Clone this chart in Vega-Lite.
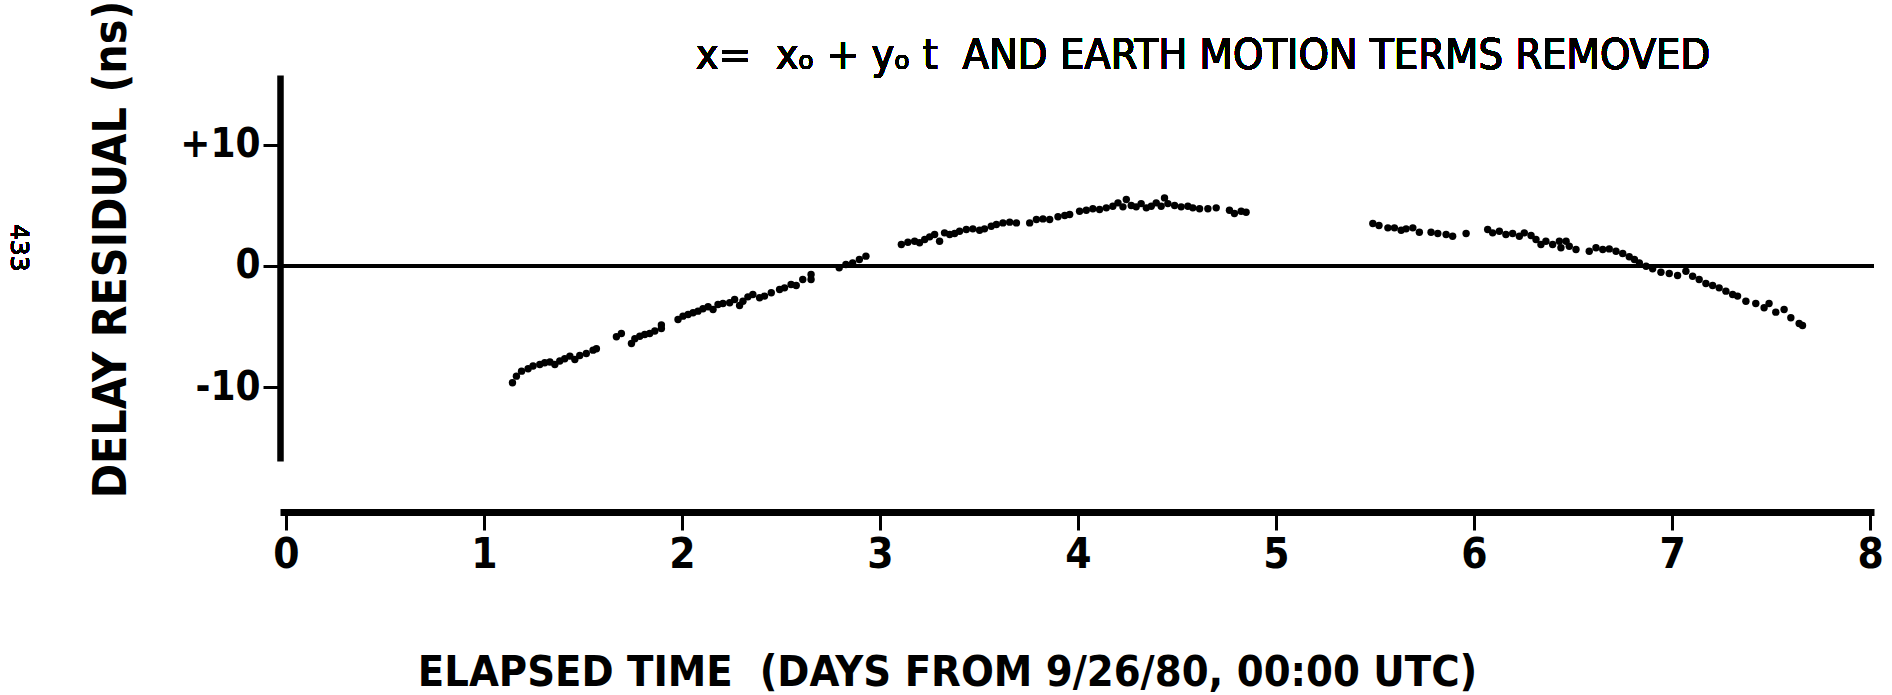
{
  "$schema": "https://vega.github.io/schema/vega-lite/v6.json",
  "autosize": {"type": "none"},
  "width": 1594,
  "height": 386,
  "padding": {"left": 280, "top": 75, "right": 18, "bottom": 234},
  "background": "white",
  "config": {"view": {"stroke": null}, "font": "DejaVu Sans Condensed, sans-serif"},
  "data": {"values": [
    {"t":1.144,"r":-9.62},{"t":1.164,"r":-9.07},{"t":1.190,"r":-8.66},{"t":1.223,"r":-8.46},{"t":1.248,"r":-8.24},{"t":1.282,"r":-8.11},{"t":1.307,"r":-7.97},{"t":1.333,"r":-7.91},{"t":1.358,"r":-8.11},{"t":1.383,"r":-7.83},{"t":1.408,"r":-7.64},{"t":1.434,"r":-7.42},{"t":1.459,"r":-7.70},{"t":1.484,"r":-7.37},{"t":1.517,"r":-7.20},{"t":1.551,"r":-6.93},{"t":1.568,"r":-6.82},
    {"t":1.669,"r":-5.83},{"t":1.694,"r":-5.56},{"t":1.745,"r":-6.38},{"t":1.762,"r":-5.99},{"t":1.787,"r":-5.78},{"t":1.812,"r":-5.64},{"t":1.837,"r":-5.56},{"t":1.863,"r":-5.36},{"t":1.896,"r":-4.85},{"t":1.896,"r":-5.15},
    {"t":1.980,"r":-4.40},{"t":2.005,"r":-4.13},{"t":2.031,"r":-3.99},{"t":2.056,"r":-3.85},{"t":2.081,"r":-3.72},{"t":2.106,"r":-3.52},{"t":2.132,"r":-3.36},{"t":2.157,"r":-3.58},{"t":2.182,"r":-3.17},{"t":2.207,"r":-3.09},{"t":2.241,"r":-3.03},{"t":2.266,"r":-2.76},{"t":2.291,"r":-3.25},{"t":2.308,"r":-2.90},{"t":2.333,"r":-2.54},{"t":2.358,"r":-2.35},{"t":2.392,"r":-2.62},{"t":2.417,"r":-2.48},{"t":2.451,"r":-2.21},{"t":2.493,"r":-1.93},{"t":2.518,"r":-1.80},{"t":2.551,"r":-1.52},{"t":2.577,"r":-1.60},{"t":2.610,"r":-1.11},{"t":2.652,"r":-0.70},{"t":2.652,"r":-1.11},
    {"t":2.794,"r":-0.15},{"t":2.828,"r":0.12},{"t":2.862,"r":0.26},{"t":2.896,"r":0.53},{"t":2.929,"r":0.81},
    {"t":3.108,"r":1.77},{"t":3.141,"r":1.96},{"t":3.175,"r":2.04},{"t":3.200,"r":1.91},{"t":3.226,"r":2.18},{"t":3.251,"r":2.40},{"t":3.276,"r":2.59},{"t":3.301,"r":2.04},{"t":3.326,"r":2.73},{"t":3.352,"r":2.59},{"t":3.377,"r":2.67},{"t":3.402,"r":2.86},{"t":3.436,"r":3.00},{"t":3.469,"r":3.06},{"t":3.503,"r":2.95},{"t":3.528,"r":3.06},{"t":3.562,"r":3.28},{"t":3.588,"r":3.42},{"t":3.621,"r":3.55},{"t":3.655,"r":3.61},{"t":3.689,"r":3.55},
    {"t":3.756,"r":3.55},{"t":3.790,"r":3.83},{"t":3.823,"r":3.88},{"t":3.857,"r":3.83},{"t":3.899,"r":4.05},{"t":3.933,"r":4.16},{"t":3.958,"r":4.24},
    {"t":4.008,"r":4.51},{"t":4.042,"r":4.59},{"t":4.075,"r":4.71},{"t":4.109,"r":4.65},{"t":4.143,"r":4.79},{"t":4.176,"r":4.92},{"t":4.202,"r":5.20},{"t":4.227,"r":4.87},{"t":4.244,"r":5.47},{"t":4.269,"r":4.98},{"t":4.294,"r":4.87},{"t":4.319,"r":5.14},{"t":4.345,"r":4.79},{"t":4.370,"r":4.92},{"t":4.395,"r":5.20},{"t":4.420,"r":4.92},{"t":4.437,"r":5.61},{"t":4.454,"r":5.14},{"t":4.488,"r":4.98},{"t":4.521,"r":4.87},{"t":4.555,"r":4.92},{"t":4.580,"r":4.79},{"t":4.614,"r":4.71},{"t":4.656,"r":4.71},{"t":4.698,"r":4.79},{"t":4.765,"r":4.59},{"t":4.790,"r":4.32},{"t":4.824,"r":4.51},{"t":4.849,"r":4.43},
    {"t":5.489,"r":3.50},{"t":5.520,"r":3.33},{"t":5.565,"r":3.14},{"t":5.598,"r":3.14},{"t":5.632,"r":2.95},{"t":5.657,"r":3.06},{"t":5.691,"r":3.14},{"t":5.724,"r":2.78},{"t":5.783,"r":2.78},{"t":5.817,"r":2.67},{"t":5.859,"r":2.59},{"t":5.892,"r":2.45},{"t":5.960,"r":2.67},
    {"t":6.069,"r":3.00},{"t":6.094,"r":2.73},{"t":6.128,"r":2.86},{"t":6.161,"r":2.59},{"t":6.195,"r":2.67},{"t":6.229,"r":2.45},{"t":6.254,"r":2.73},{"t":6.288,"r":2.51},{"t":6.313,"r":2.18},{"t":6.338,"r":1.77},{"t":6.363,"r":2.04},{"t":6.397,"r":1.77},{"t":6.431,"r":2.04},{"t":6.439,"r":1.50},{"t":6.465,"r":2.04},{"t":6.481,"r":1.63},{"t":6.515,"r":1.36},
    {"t":6.582,"r":1.22},{"t":6.616,"r":1.50},{"t":6.650,"r":1.36},{"t":6.683,"r":1.41},{"t":6.717,"r":1.22},{"t":6.751,"r":1.03},{"t":6.784,"r":0.76},{"t":6.810,"r":0.53},{"t":6.835,"r":0.26},{"t":6.869,"r":-0.02},{"t":6.902,"r":-0.23},{"t":6.944,"r":-0.51},{"t":6.986,"r":-0.62},{"t":7.028,"r":-0.78},{"t":7.070,"r":-0.43},{"t":7.104,"r":-0.84},{"t":7.137,"r":-1.11},{"t":7.171,"r":-1.44},{"t":7.205,"r":-1.60},{"t":7.238,"r":-1.80},{"t":7.272,"r":-2.07},{"t":7.306,"r":-2.35},{"t":7.331,"r":-2.48},
    {"t":7.373,"r":-2.90},{"t":7.423,"r":-3.09},{"t":7.465,"r":-3.44},{"t":7.490,"r":-3.09},{"t":7.524,"r":-3.80},{"t":7.566,"r":-3.58},{"t":7.600,"r":-4.26},{"t":7.642,"r":-4.73},{"t":7.659,"r":-4.90}
  ]},
  "layer": [
    {
      "mark": {"type": "rule", "color": "black", "strokeWidth": 4},
      "encoding": {"y": {"datum": 0}}
    },
    {
      "mark": {"type": "circle", "color": "black", "opacity": 1, "size": 55},
      "encoding": {
        "x": {
          "field": "t", "type": "quantitative",
          "scale": {"domain": [-0.03, 8.02], "nice": false, "zero": false},
          "axis": {
            "orient": "bottom",
            "offset": 51,
            "values": [0,1,2,3,4,5,6,7,8],
            "format": "d",
            "grid": false,
            "domainColor": "black", "domainWidth": 7,
            "tickColor": "black", "tickWidth": 3, "tickSize": 18,
            "labelFont": "DejaVu Sans Condensed, sans-serif",
            "labelFontSize": 42, "labelFontWeight": "bold", "labelColor": "black",
            "labelPadding": 4, "labelBaseline": "top",
            "title": "ELAPSED TIME \u00a0(DAYS FROM 9/26/80, 00:00 UTC)",
            "titleFont": "DejaVu Sans Condensed, sans-serif",
            "titleFontSize": 43, "titleFontWeight": "bold", "titleColor": "black",
            "titleAnchor": "start", "titleAlign": "center", "titleX": 667, "titleY": 173, "titleBaseline": "alphabetic"
          }
        },
        "y": {
          "field": "r", "type": "quantitative",
          "scale": {"domain": [-16.06, 15.73], "nice": false, "zero": false},
          "axis": {
            "orient": "left",
            "values": [-10, 0, 10],
            "labelExpr": "datum.value > 0 ? '+' + datum.value : '' + datum.value",
            "grid": false,
            "domainColor": "black", "domainWidth": 6.5,
            "tickColor": "black", "tickWidth": 3, "tickSize": 17,
            "labelFont": "DejaVu Sans Condensed, sans-serif",
            "labelFontSize": 40, "labelFontWeight": "bold", "labelColor": "black",
            "labelPadding": 3,
            "title": "DELAY RESIDUAL (ns)",
            "titleFont": "DejaVu Sans Condensed, sans-serif",
            "titleFontSize": 46, "titleFontWeight": "bold", "titleColor": "black",
            "titleAngle": 270, "titleAlign": "center", "titleBaseline": "alphabetic",
            "titleX": -155, "titleY": 174
          }
        }
      }
    },
    {
      "mark": {"type": "text", "align": "left", "baseline": "alphabetic", "fontSize": 43, "font": "DejaVu Sans Condensed, sans-serif", "color": "black"},
      "encoding": {"x": {"datum": 2.07}, "y": {"datum": 16.23}, "text": {"value": "x=\u00a0 xₒ + yₒ t \u00a0AND EARTH MOTION TERMS REMOVED"}}
    },
    {
      "mark": {"type": "text", "angle": 90, "align": "center", "baseline": "middle", "fontSize": 25, "font": "DejaVu Sans, sans-serif", "color": "black"},
      "encoding": {"x": {"datum": -1.35}, "y": {"datum": 1.5}, "text": {"value": "433"}}
    }
  ]
}
